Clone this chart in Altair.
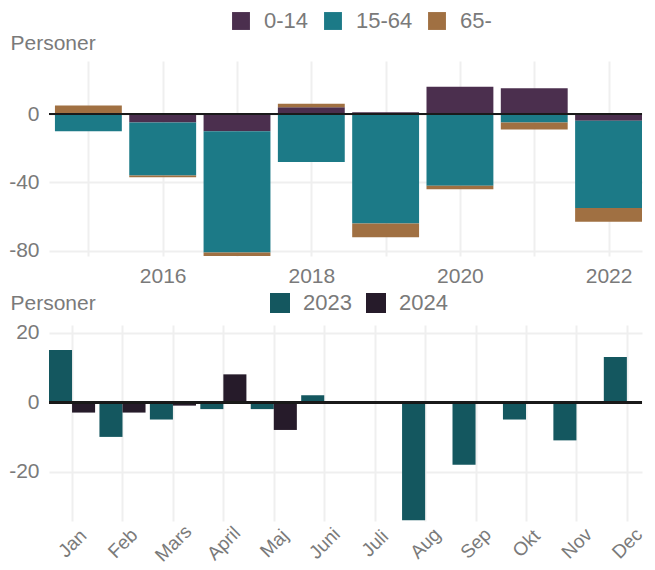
import altair as alt
import pandas as pd

# ---- top panel: yearly change by age group ----
years = [2015, 2016, 2017, 2018, 2019, 2020, 2021, 2022]
age_groups = ["0-14", "15-64", "65-"]
v_0_14 = [0, -5, -10, 4, 1, 16, 15, -4]
v_15_64 = [-10, -31, -71, -28, -64, -42, -5, -51]
v_65 = [5, -1, -2, 2, -8, -2, -4, -8]
age_colors = ["#4B2F4E", "#1C7A87", "#A07042"]

# ---- bottom panel: monthly change 2023 / 2024 ----
months = ["Jan", "Feb", "Mars", "April", "Maj", "Juni", "Juli", "Aug", "Sep", "Okt", "Nov", "Dec"]
m_2023 = [15, -10, -5, -2, -2, 2, 0, -34, -18, -5, -11, 13]
m_2024 = [-3, -3, -1, 8, -8]
year_labels = ["2023", "2024"]
year_colors = ["#14575F", "#261B2A"]

rows = []
for i, y in enumerate(years):
    for j, (g, vals) in enumerate(zip(age_groups, [v_0_14, v_15_64, v_65])):
        rows.append({"year": y, "group": g, "value": vals[i], "order": j})
df_top = pd.DataFrame(rows)

rows2 = []
for i, m in enumerate(months):
    rows2.append({"month": m, "mi": i + 1, "yr": "2023", "value": m_2023[i]})
for i, v in enumerate(m_2024):
    rows2.append({"month": months[i], "mi": i + 1, "yr": "2024", "value": v})
df_bot = pd.DataFrame(rows2)

FONT = "Liberation Sans"
GRAY = "#7a7a7a"
GRID = "#efefef"
W = 593
month_expr = "[" + ",".join("'%s'" % m for m in months) + "][datum.value - 1]"

top_bars = alt.Chart(df_top).transform_stack(
    stack="value", groupby=["year"], as_=["y0", "y1"], offset="zero",
    sort=[alt.SortField("order", order="ascending")]
).transform_calculate(
    xa="datum.year - 0.45", xb="datum.year + 0.45"
).mark_bar(clip=True).encode(
    x=alt.X("xa:Q", title=None,
            scale=alt.Scale(domain=[2014.47, 2022.45], nice=False, zero=False),
            axis=alt.Axis(values=years, labelExpr="datum.value % 2 == 0 ? '' + datum.value : ''",
                          labelFontSize=21, labelColor=GRAY, labelFont=FONT,
                          labelPadding=9, ticks=False, domain=False, grid=True,
                          gridColor=GRID, gridWidth=2, labelFlush=False, labelOverlap=False)),
    x2="xb:Q",
    y=alt.Y("y0:Q",
            scale=alt.Scale(domain=[-83, 31], nice=False, zero=False),
            axis=alt.Axis(values=[-80, -40, 0], labelExpr="'' + datum.value",
                          title="Personer", titleAngle=0,
                          titleX=-39, titleY=-12, titleAlign="left", titleBaseline="alphabetic",
                          titleFontSize=21, titleFontWeight="normal", titleColor=GRAY, titleFont=FONT,
                          labelFontSize=21, labelColor=GRAY, labelFont=FONT, labelPadding=10,
                          ticks=False, domain=False, gridColor=GRID, gridWidth=2)),
    y2="y1:Q",
    color=alt.Color("group:N", sort=age_groups,
                    scale=alt.Scale(domain=age_groups, range=age_colors),
                    legend=alt.Legend(title=None, orient="none", direction="horizontal",
                                      legendX=181, legendY=-51, symbolType="square",
                                      symbolSize=320, symbolStrokeWidth=0, symbolOpacity=1,
                                      labelFontSize=22, labelColor=GRAY, labelFont=FONT,
                                      labelOffset=12, columnPadding=13)),
)
top_zero = alt.Chart(df_top).mark_rule(color="#1a1a1a", strokeWidth=2).encode(y=alt.datum(0))
top = alt.layer(top_bars, top_zero).properties(width=W, height=195)

bot_bars = alt.Chart(df_bot).transform_calculate(
    xa="datum.mi + (datum.yr == '2023' ? -0.457 : 0)",
    xb="datum.mi + (datum.yr == '2023' ? 0 : 0.457)"
).mark_bar(clip=True).encode(
    x=alt.X("xa:Q", title=None,
            scale=alt.Scale(domain=[0.543, 12.3], nice=False, zero=False),
            axis=alt.Axis(values=list(range(1, 13)), labelExpr=month_expr,
                          labelAngle=-45, labelAlign="center", labelBaseline="middle",
                          labelFontSize=19, labelColor=GRAY, labelFont=FONT, labelPadding=22,
                          ticks=False, domain=False, grid=True, gridColor=GRID, gridWidth=2,
                          labelFlush=False, labelOverlap=False)),
    x2="xb:Q",
    y=alt.Y("value:Q",
            scale=alt.Scale(domain=[-34.2, 22.2], nice=False, zero=False),
            axis=alt.Axis(values=[-20, 0, 20], labelExpr="'' + datum.value",
                          title="Personer", titleAngle=0,
                          titleX=-39, titleY=-16, titleAlign="left", titleBaseline="alphabetic",
                          titleFontSize=21, titleFontWeight="normal", titleColor=GRAY, titleFont=FONT,
                          labelFontSize=21, labelColor=GRAY, labelFont=FONT, labelPadding=10,
                          ticks=False, domain=False, gridColor=GRID, gridWidth=2)),
    y2=alt.datum(0),
    color=alt.Color("yr:N",
                    scale=alt.Scale(domain=year_labels, range=year_colors),
                    legend=alt.Legend(title=None, orient="none", direction="horizontal",
                                      legendX=220, legendY=-33, symbolType="square",
                                      symbolSize=400, symbolStrokeWidth=0, symbolOpacity=1,
                                      labelFontSize=22, labelColor=GRAY, labelFont=FONT,
                                      labelOffset=12, columnPadding=13)),
)
bot_zero = alt.Chart(df_bot).mark_rule(color="#1a1a1a", strokeWidth=2).encode(y=alt.datum(0))
bot = alt.layer(bot_bars, bot_zero).properties(width=W, height=196)

chart = alt.vconcat(top, bot, spacing=6).resolve_scale(
    color="independent", x="independent", y="independent"
).resolve_legend(color="independent").configure(
    padding={"left": 0, "top": 2, "right": 0, "bottom": 0}
).configure_view(stroke=None)

chart.save("out.html", embed_options={"renderer": "svg", "actions": False})
